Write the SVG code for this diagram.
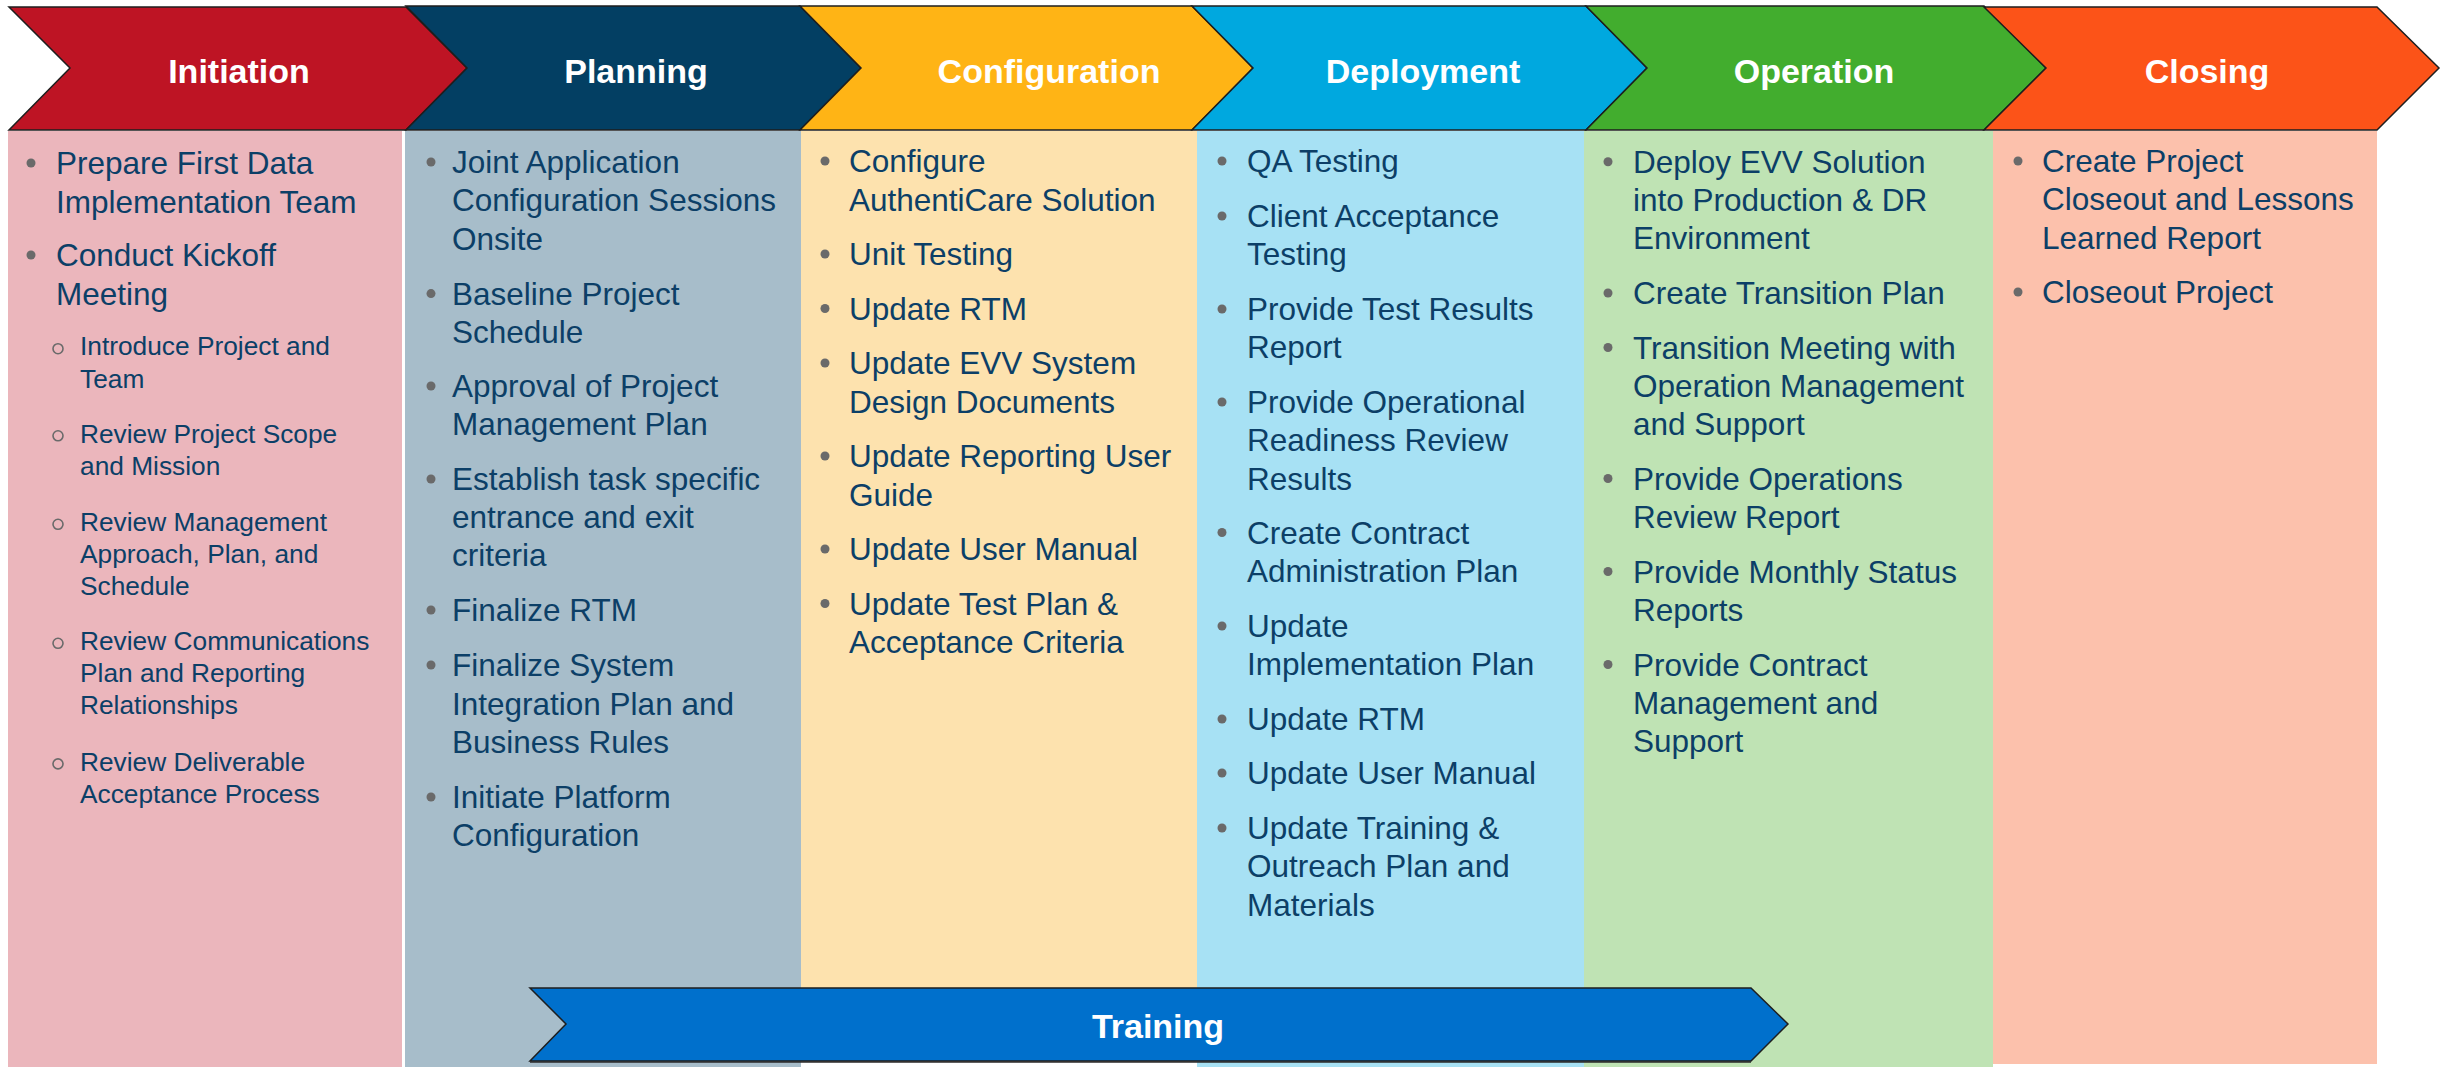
<svg xmlns="http://www.w3.org/2000/svg" width="2445" height="1067" viewBox="0 0 2445 1067">
  <style>
    .hdr { stroke: #1e1e1e; stroke-width: 1.5; stroke-linejoin: miter; }
    .hd { font-family: "Liberation Sans", Arial, sans-serif; font-weight: bold; font-size: 34px; fill: #ffffff; text-anchor: middle; }
    .tx { font-family: "Liberation Sans", Arial, sans-serif; font-size: 31.5px; fill: #0c3f67; }
    .sx { font-family: "Liberation Sans", Arial, sans-serif; font-size: 26.3px; fill: #0c3f67; }
    .dot { fill: #6a6a6a; }
    .ring { fill: none; stroke: #6a6a6a; stroke-width: 1.6; }
  </style>

  <rect x="0" y="0" width="2445" height="1067" fill="#ffffff"/>

  <!-- Initiation -->
  <g id="initiation">
    <rect x="8" y="131" width="394" height="936" fill="#ebb6bc"/>
    <polygon class="hdr" fill="#be1424" points="9,7 406,7 467,68 406,130 9,130 70,68"/>
    <text class="hd" x="239" y="83">Initiation</text>
    <circle class="dot" cx="31" cy="163" r="4.5"/>
    <text class="tx" x="56" y="174">Prepare First Data</text>
    <text class="tx" x="56" y="212.5">Implementation Team</text>
    <circle class="dot" cx="31" cy="255" r="4.5"/>
    <text class="tx" x="56" y="266">Conduct Kickoff</text>
    <text class="tx" x="56" y="304.5">Meeting</text>
    <circle class="ring" cx="58" cy="348.7" r="5"/>
    <text class="sx" x="80" y="355.4">Introduce Project and</text>
    <text class="sx" x="80" y="387.6">Team</text>
    <circle class="ring" cx="58" cy="435.8" r="5"/>
    <text class="sx" x="80" y="442.5">Review Project Scope</text>
    <text class="sx" x="80" y="474.6">and Mission</text>
    <circle class="ring" cx="58" cy="524.3" r="5"/>
    <text class="sx" x="80" y="531">Review Management</text>
    <text class="sx" x="80" y="563">Approach, Plan, and</text>
    <text class="sx" x="80" y="595">Schedule</text>
    <circle class="ring" cx="58" cy="643.3" r="5"/>
    <text class="sx" x="80" y="650">Review Communications</text>
    <text class="sx" x="80" y="682">Plan and Reporting</text>
    <text class="sx" x="80" y="714">Relationships</text>
    <circle class="ring" cx="58" cy="763.9" r="5"/>
    <text class="sx" x="80" y="770.6">Review Deliverable</text>
    <text class="sx" x="80" y="802.7">Acceptance Process</text>
  </g>

  <!-- Planning -->
  <g id="planning">
    <rect x="405" y="131" width="396" height="936" fill="#a7bdca"/>
    <polygon class="hdr" fill="#033f63" points="406,6 800,6 861,68 800,130 406,130 467,68"/>
    <text class="hd" x="636" y="83">Planning</text>
    <circle class="dot" cx="431" cy="162" r="4.5"/>
    <text class="tx" x="452" y="173">Joint Application</text>
    <text class="tx" x="452" y="211.3">Configuration Sessions</text>
    <text class="tx" x="452" y="249.6">Onsite</text>
    <circle class="dot" cx="431" cy="293.6" r="4.5"/>
    <text class="tx" x="452" y="304.6">Baseline Project</text>
    <text class="tx" x="452" y="342.8">Schedule</text>
    <circle class="dot" cx="431" cy="386" r="4.5"/>
    <text class="tx" x="452" y="397">Approval of Project</text>
    <text class="tx" x="452" y="435">Management Plan</text>
    <circle class="dot" cx="431" cy="479" r="4.5"/>
    <text class="tx" x="452" y="490">Establish task specific</text>
    <text class="tx" x="452" y="528">entrance and exit</text>
    <text class="tx" x="452" y="566">criteria</text>
    <circle class="dot" cx="431" cy="610" r="4.5"/>
    <text class="tx" x="452" y="621">Finalize RTM</text>
    <circle class="dot" cx="431" cy="665" r="4.5"/>
    <text class="tx" x="452" y="676">Finalize System</text>
    <text class="tx" x="452" y="714.5">Integration Plan and</text>
    <text class="tx" x="452" y="752.8">Business Rules</text>
    <circle class="dot" cx="431" cy="797" r="4.5"/>
    <text class="tx" x="452" y="808">Initiate Platform</text>
    <text class="tx" x="452" y="846">Configuration</text>
  </g>

  <!-- Configuration -->
  <g id="configuration">
    <rect x="801" y="131" width="396" height="931" fill="#fde2ae"/>
    <polygon class="hdr" fill="#ffb415" points="800,6 1192,6 1253,68 1192,130 800,130 861,68"/>
    <text class="hd" x="1049" y="83">Configuration</text>
    <circle class="dot" cx="825" cy="161" r="4.5"/>
    <text class="tx" x="849" y="172">Configure</text>
    <text class="tx" x="849" y="210.5">AuthentiCare Solution</text>
    <circle class="dot" cx="825" cy="254" r="4.5"/>
    <text class="tx" x="849" y="265">Unit Testing</text>
    <circle class="dot" cx="825" cy="308.5" r="4.5"/>
    <text class="tx" x="849" y="319.5">Update RTM</text>
    <circle class="dot" cx="825" cy="363" r="4.5"/>
    <text class="tx" x="849" y="374">Update EVV System</text>
    <text class="tx" x="849" y="412.5">Design Documents</text>
    <circle class="dot" cx="825" cy="456" r="4.5"/>
    <text class="tx" x="849" y="467">Update Reporting User</text>
    <text class="tx" x="849" y="505.5">Guide</text>
    <circle class="dot" cx="825" cy="549" r="4.5"/>
    <text class="tx" x="849" y="560">Update User Manual</text>
    <circle class="dot" cx="825" cy="603.5" r="4.5"/>
    <text class="tx" x="849" y="614.5">Update Test Plan &amp;</text>
    <text class="tx" x="849" y="653">Acceptance Criteria</text>
  </g>

  <!-- Deployment -->
  <g id="deployment">
    <rect x="1197" y="131" width="387" height="936" fill="#a7e1f4"/>
    <polygon class="hdr" fill="#00a8df" points="1192,6 1586,6 1647,68 1586,130 1192,130 1253,68"/>
    <text class="hd" x="1423" y="83">Deployment</text>
    <circle class="dot" cx="1222" cy="161" r="4.5"/>
    <text class="tx" x="1247" y="172">QA Testing</text>
    <circle class="dot" cx="1222" cy="216" r="4.5"/>
    <text class="tx" x="1247" y="227">Client Acceptance</text>
    <text class="tx" x="1247" y="265.3">Testing</text>
    <circle class="dot" cx="1222" cy="309" r="4.5"/>
    <text class="tx" x="1247" y="320">Provide Test Results</text>
    <text class="tx" x="1247" y="358.3">Report</text>
    <circle class="dot" cx="1222" cy="402" r="4.5"/>
    <text class="tx" x="1247" y="413">Provide Operational</text>
    <text class="tx" x="1247" y="451.3">Readiness Review</text>
    <text class="tx" x="1247" y="489.6">Results</text>
    <circle class="dot" cx="1222" cy="532.5" r="4.5"/>
    <text class="tx" x="1247" y="543.5">Create Contract</text>
    <text class="tx" x="1247" y="581.8">Administration Plan</text>
    <circle class="dot" cx="1222" cy="626" r="4.5"/>
    <text class="tx" x="1247" y="637">Update</text>
    <text class="tx" x="1247" y="675.3">Implementation Plan</text>
    <circle class="dot" cx="1222" cy="719" r="4.5"/>
    <text class="tx" x="1247" y="730">Update RTM</text>
    <circle class="dot" cx="1222" cy="773" r="4.5"/>
    <text class="tx" x="1247" y="784">Update User Manual</text>
    <circle class="dot" cx="1222" cy="828" r="4.5"/>
    <text class="tx" x="1247" y="839">Update Training &amp;</text>
    <text class="tx" x="1247" y="877.3">Outreach Plan and</text>
    <text class="tx" x="1247" y="915.6">Materials</text>
  </g>

  <!-- Operation -->
  <g id="operation">
    <rect x="1584" y="131" width="409" height="936" fill="#bfe3b4"/>
    <polygon class="hdr" fill="#42ad2e" points="1586,6 1984,6 2046,68 1984,130 1586,130 1647,68"/>
    <text class="hd" x="1814" y="83">Operation</text>
    <circle class="dot" cx="1608" cy="161.7" r="4.5"/>
    <text class="tx" x="1633" y="172.7">Deploy EVV Solution</text>
    <text class="tx" x="1633" y="211">into Production &amp; DR</text>
    <text class="tx" x="1633" y="249.3">Environment</text>
    <circle class="dot" cx="1608" cy="293" r="4.5"/>
    <text class="tx" x="1633" y="304">Create Transition Plan</text>
    <circle class="dot" cx="1608" cy="347.5" r="4.5"/>
    <text class="tx" x="1633" y="358.5">Transition Meeting with</text>
    <text class="tx" x="1633" y="396.8">Operation Management</text>
    <text class="tx" x="1633" y="435.1">and Support</text>
    <circle class="dot" cx="1608" cy="478.5" r="4.5"/>
    <text class="tx" x="1633" y="489.5">Provide Operations</text>
    <text class="tx" x="1633" y="527.8">Review Report</text>
    <circle class="dot" cx="1608" cy="571.5" r="4.5"/>
    <text class="tx" x="1633" y="582.5">Provide Monthly Status</text>
    <text class="tx" x="1633" y="620.8">Reports</text>
    <circle class="dot" cx="1608" cy="664.5" r="4.5"/>
    <text class="tx" x="1633" y="675.5">Provide Contract</text>
    <text class="tx" x="1633" y="713.8">Management and</text>
    <text class="tx" x="1633" y="752.1">Support</text>
  </g>

  <!-- Closing -->
  <g id="closing">
    <rect x="1993" y="131" width="384" height="933" fill="#fcc1ac"/>
    <polygon class="hdr" fill="#fc5318" points="1984,7 2377,7 2439,68 2377,130 1984,130 2046,68"/>
    <text class="hd" x="2207" y="83">Closing</text>
    <circle class="dot" cx="2018" cy="161" r="4.5"/>
    <text class="tx" x="2042" y="172">Create Project</text>
    <text class="tx" x="2042" y="210.3">Closeout and Lessons</text>
    <text class="tx" x="2042" y="248.6">Learned Report</text>
    <circle class="dot" cx="2018" cy="292" r="4.5"/>
    <text class="tx" x="2042" y="303">Closeout Project</text>
  </g>

  <!-- Training band across the middle phases -->
  <g id="training">
    <polygon class="hdr" fill="#0070cc" points="530,988 1751,988 1788,1024 1751,1061 530,1061 566,1024"/>
    <line x1="530" y1="1062" x2="1751" y2="1062" stroke="#2a2a2a" stroke-width="1.5"/>
    <text class="hd" x="1158" y="1038">Training</text>
  </g>
</svg>
